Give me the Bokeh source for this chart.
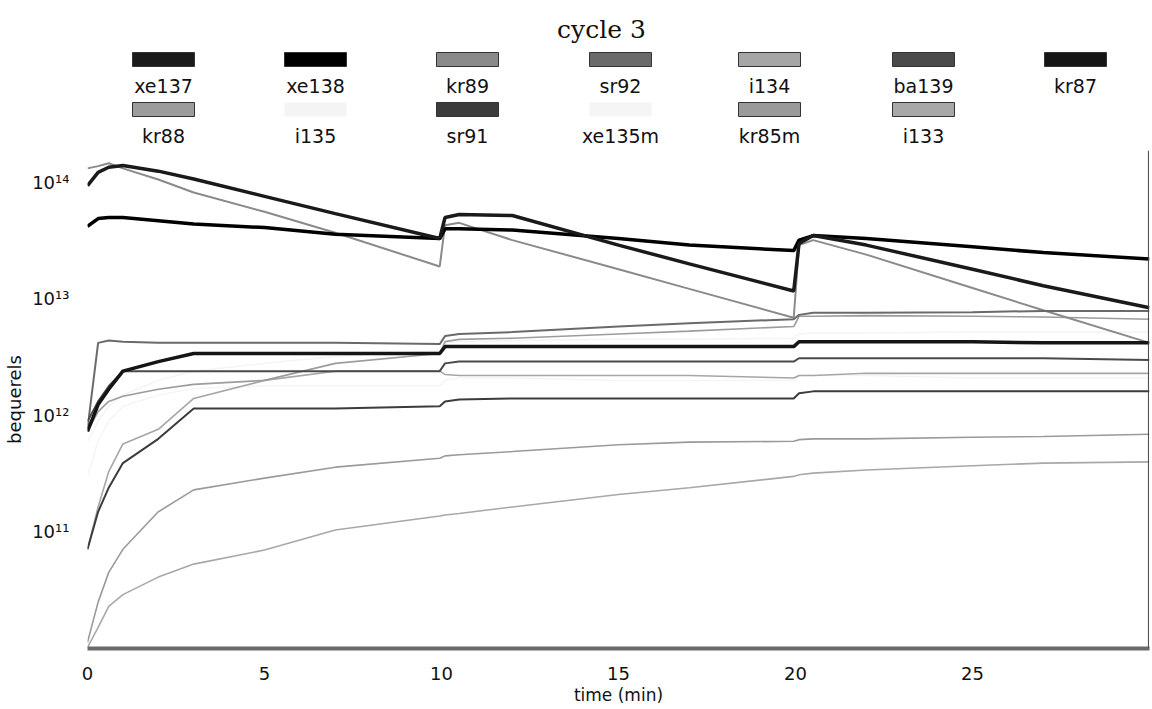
from bokeh.plotting import figure
from bokeh.models import Range1d, FixedTicker, CustomJSTickFormatter, Span
from bokeh.layouts import column
from bokeh.embed import file_html
from bokeh.resources import INLINE
from bokeh.core.properties import value

# ---------------- data ----------------
time_min = [0, 0.3, 0.6, 1, 2, 3, 5, 7, 9.95, 10.1, 10.5, 12, 15, 17, 19.95, 20.1, 20.5, 22, 25, 27, 30]

xe137 = [9.4e13, 1.22e14, 1.35e14, 1.40e14, 1.25e14, 1.07e14, 7.6e13, 5.4e13, 3.3e13, 5.0e13, 5.3e13,
         5.2e13, 2.9e13, 2.0e13, 1.17e13, 3.0e13, 3.5e13, 2.9e13, 1.8e13, 1.3e13, 8.4e12]
xe138 = [4.2e13, 4.9e13, 5.0e13, 5.0e13, 4.7e13, 4.4e13, 4.1e13, 3.6e13, 3.3e13, 4.0e13, 4.0e13,
         3.9e13, 3.3e13, 2.9e13, 2.6e13, 3.2e13, 3.5e13, 3.3e13, 2.8e13, 2.5e13, 2.2e13]
kr89 = [1.32e14, 1.38e14, 1.46e14, 1.32e14, 1.06e14, 8.2e13, 5.6e13, 3.7e13, 1.9e13, 4.3e13, 4.5e13,
        3.2e13, 1.8e13, 1.22e13, 6.9e12, 2.9e13, 3.2e13, 2.4e13, 1.24e13, 8.0e12, 4.2e12]
sr92 = [7.7e11, 4.2e12, 4.4e12, 4.3e12, 4.2e12, 4.2e12, 4.2e12, 4.2e12, 4.1e12, 4.8e12, 5.0e12,
        5.2e12, 5.8e12, 6.2e12, 6.7e12, 7.3e12, 7.6e12, 7.6e12, 7.7e12, 7.9e12, 7.9e12]
i134 = [7.1e10, 1.64e11, 3.3e11, 5.7e11, 7.6e11, 1.4e12, 2.0e12, 2.4e12, 2.4e12, 2.25e12, 2.2e12,
        2.2e12, 2.2e12, 2.2e12, 2.1e12, 2.2e12, 2.2e12, 2.3e12, 2.3e12, 2.3e12, 2.3e12]
ba139 = [8.9e11, 1.32e12, 1.78e12, 2.4e12, 2.4e12, 2.4e12, 2.4e12, 2.4e12, 2.4e12, 2.8e12, 2.9e12,
         2.9e12, 2.9e12, 2.9e12, 2.9e12, 3.1e12, 3.1e12, 3.1e12, 3.1e12, 3.1e12, 3.0e12]
kr87 = [7.3e11, 1.24e12, 1.68e12, 2.4e12, 2.9e12, 3.4e12, 3.4e12, 3.4e12, 3.4e12, 3.9e12, 3.9e12,
        3.9e12, 3.9e12, 3.9e12, 3.9e12, 4.3e12, 4.3e12, 4.3e12, 4.3e12, 4.2e12, 4.2e12]
kr88 = [7.3e11, 1.08e12, 1.32e12, 1.46e12, 1.68e12, 1.85e12, 2.0e12, 2.8e12, 3.4e12, 4.3e12, 4.5e12,
        4.6e12, 5.0e12, 5.3e12, 5.8e12, 7.1e12, 7.1e12, 7.2e12, 7.1e12, 7.0e12, 6.7e12]
i135 = [6.0e11, 9.0e11, 1.2e12, 1.5e12, 2.0e12, 2.4e12, 2.8e12, 3.2e12, 3.6e12, 4.2e12, 4.3e12,
        4.4e12, 4.5e12, 4.5e12, 4.6e12, 5.0e12, 5.1e12, 5.1e12, 5.2e12, 5.2e12, 5.2e12]
sr91 = [7.1e10, 1.49e11, 2.4e11, 3.9e11, 6.3e11, 1.15e12, 1.15e12, 1.15e12, 1.2e12, 1.32e12, 1.37e12,
        1.4e12, 1.4e12, 1.4e12, 1.4e12, 1.55e12, 1.61e12, 1.61e12, 1.61e12, 1.61e12, 1.61e12]
xe135m = [3.0e11, 6.0e11, 9.0e11, 1.2e12, 1.5e12, 1.7e12, 1.8e12, 1.8e12, 1.8e12, 2.0e12, 2.1e12,
          2.1e12, 2.0e12, 2.0e12, 2.0e12, 2.2e12, 2.2e12, 2.2e12, 2.1e12, 2.1e12, 2.1e12]
kr85m = [1.13e10, 2.5e10, 4.5e10, 7.1e10, 1.49e11, 2.3e11, 2.9e11, 3.6e11, 4.3e11, 4.5e11, 4.6e11,
         4.9e11, 5.6e11, 5.9e11, 6.0e11, 6.2e11, 6.3e11, 6.3e11, 6.5e11, 6.6e11, 6.9e11]
i133 = [1.02e10, 1.52e10, 2.3e10, 2.9e10, 4.1e10, 5.3e10, 7.0e10, 1.04e11, 1.37e11, 1.40e11, 1.44e11,
        1.64e11, 2.1e11, 2.4e11, 3.0e11, 3.1e11, 3.2e11, 3.4e11, 3.7e11, 3.9e11, 4.0e11]

legend_row1 = ["xe137", "xe138", "kr89", "sr92", "i134", "ba139", "kr87"]
legend_row2 = ["kr88", "i135", "sr91", "xe135m", "kr85m", "i133"]
x_ticks = [0, 5, 10, 15, 20, 25]
y_ticks = [1e11, 1e12, 1e13, 1e14]

# ---------------- styles ----------------
styles = {
    "xe137": ("#1a1a1a", 3.5),
    "xe138": ("#000000", 3.5),
    "kr89": ("#8a8a8a", 2),
    "sr92": ("#6a6a6a", 2),
    "i134": ("#a6a6a6", 1.6),
    "ba139": ("#4a4a4a", 2),
    "kr87": ("#151515", 3.5),
    "kr88": ("#9c9c9c", 1.6),
    "i135": ("#f4f4f4", 1.5),
    "sr91": ("#3c3c3c", 2),
    "xe135m": ("#f5f5f5", 1.5),
    "kr85m": ("#9a9a9a", 1.6),
    "i133": ("#a8a8a8", 1.6),
}
series = [("i135", i135), ("xe135m", xe135m), ("i133", i133), ("kr85m", kr85m),
          ("i134", i134), ("kr88", kr88), ("kr89", kr89), ("sr92", sr92), ("ba139", ba139),
          ("sr91", sr91), ("kr87", kr87), ("xe138", xe138), ("xe137", xe137)]

FONT = "DejaVu Sans"
LEFT, RIGHT, FW = 87, 2, 1062

# ---------------- header: title + legend (page-pixel coordinates) ----------------
HH = 145
h = figure(frame_width=FW, frame_height=HH, x_range=Range1d(LEFT, LEFT + FW), y_range=Range1d(HH, 0),
           output_backend="svg", toolbar_location=None,
           min_border_left=LEFT, min_border_right=RIGHT, min_border_top=0, min_border_bottom=0,
           x_axis_location=None, y_axis_location=None)
h.grid.visible = False
h.outline_line_color = None

h.text(x=[601], y=[29], text=["cycle 3"], text_font=value("DejaVu Serif"),
       text_font_size="25px", text_align="center", text_baseline="middle", text_color="#111111")

col_x = [163, 315, 467, 620, 769, 923, 1075]
for names, sy, ty in [(legend_row1, 59, 85), (legend_row2, 109, 135)]:
    xs = col_x[:len(names)]
    for x, n in zip(xs, names):
        border = None if n in ("i135", "xe135m") else "#333333"
        h.rect(x=[x], y=[sy], width=62, height=14, fill_color=styles[n][0], line_color=border, line_width=1)
    h.text(x=xs, y=[ty] * len(xs), text=names, text_font=value(FONT), text_font_size="19px",
           text_align="center", text_baseline="middle", text_color="#111111")

# ---------------- main plot ----------------
p = figure(frame_width=FW, frame_height=498, x_range=Range1d(0, 30),
           y_range=Range1d(1e10, 1.88e14), y_axis_type="log",
           output_backend="svg", toolbar_location=None,
           min_border_left=LEFT, min_border_right=RIGHT, min_border_top=5, min_border_bottom=0)
p.outline_line_color = None
p.grid.visible = False

for name, vals in series:
    c, w = styles[name]
    p.line(time_min, vals, line_color=c, line_width=w)

p.add_layout(Span(location=29.97, dimension="height", line_color="#444444", line_width=1))

p.xaxis.ticker = FixedTicker(ticks=x_ticks)
p.xaxis.axis_line_color = "#6a6a6a"
p.xaxis.axis_line_width = 4
p.xaxis.major_tick_line_color = None
p.xaxis.minor_tick_line_color = None
p.xaxis.major_label_text_font = FONT
p.xaxis.major_label_text_font_size = "18px"
p.xaxis.major_label_text_color = "#111111"
p.xaxis.major_label_standoff = 12
p.xaxis.axis_label = "time (min)"
p.xaxis.axis_label_text_font = FONT
p.xaxis.axis_label_text_font_size = "17px"
p.xaxis.axis_label_text_font_style = "normal"
p.xaxis.axis_label_text_color = "#111111"
p.xaxis.axis_label_standoff = 2

p.yaxis.ticker = FixedTicker(ticks=y_ticks, minor_ticks=[])
p.yaxis.formatter = CustomJSTickFormatter(code="""
const sup = {"0":"\u2070","1":"\u00b9","2":"\u00b2","3":"\u00b3","4":"\u2074","5":"\u2075",
             "6":"\u2076","7":"\u2077","8":"\u2078","9":"\u2079","-":"\u207b"};
const e = Math.round(Math.log10(tick));
return "10" + String(e).split("").map(c => sup[c]).join("");
""")
p.yaxis.axis_line_color = None
p.yaxis.major_tick_line_color = None
p.yaxis.minor_tick_line_color = None
p.yaxis.major_label_text_font = FONT
p.yaxis.major_label_text_font_size = "18px"
p.yaxis.major_label_text_color = "#111111"
p.yaxis.major_label_standoff = 12
p.yaxis.axis_label = "bequerels"
p.yaxis.axis_label_text_font = FONT
p.yaxis.axis_label_text_font_size = "18px"
p.yaxis.axis_label_text_font_style = "normal"
p.yaxis.axis_label_text_color = "#111111"
p.yaxis.axis_label_standoff = 4

layout = column(h, p)
open("out.html", "w").write(file_html(layout, INLINE))
